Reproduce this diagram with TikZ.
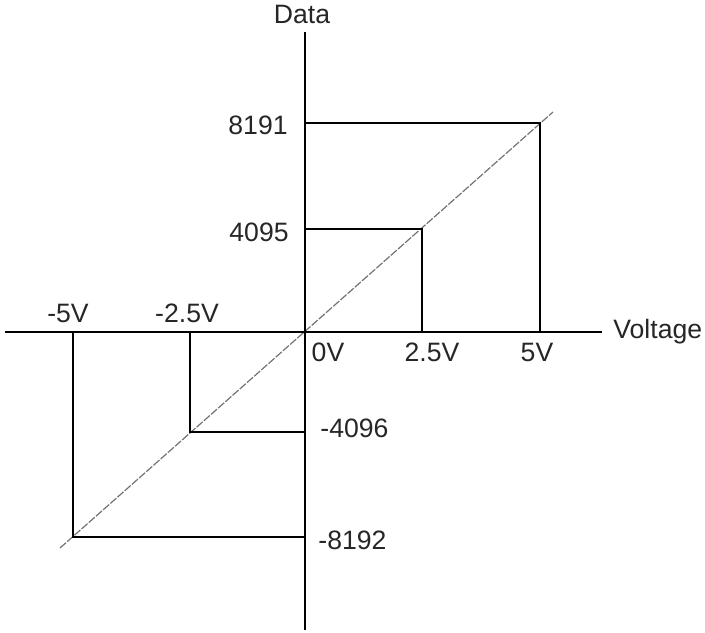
\documentclass[tikz,border=0pt]{standalone}
\usepackage{fontspec}
\setmainfont{Liberation Sans}
\usetikzlibrary{positioning}

\tikzset{
  axis/.style={black, line width=0.75pt},
  guide/.style={black, line width=0.6pt},
  ramp/.style={black!55, line width=0.6pt, dash pattern=on 4pt off 0.8pt},
  lbl/.style={inner sep=0pt, text=black!85, font=\fontsize{13.3}{15}\selectfont}
}

\begin{document}
\begin{tikzpicture}[x=0.5pt, y=0.5pt]

\useasboundingbox (-305,-300) rectangle (400,332);

% axes
\coordinate (xl) at (-300,0);
\coordinate (xr) at (297,0);
\coordinate (yt) at (0,300);
\coordinate (yb) at (0,-298);

% ticks on the voltage axis
\coordinate (vm5) at (-232,0);
\coordinate (vm25) at (-115,0);
\coordinate (v25) at (117,0);
\coordinate (v5) at (235,0);

% ticks on the data axis
\coordinate (d8191) at (0,209);
\coordinate (d4095) at (0,103);
\coordinate (dm4096) at (0,-100);
\coordinate (dm8192) at (0,-205);

% ramp ends
\coordinate (rampa) at (-245,-216);
\coordinate (rampb) at (248,220);

\draw[ramp] (rampa)--(rampb);

\draw[axis] (xl)--(xr);
\draw[axis] (yt)--(yb);

\draw[guide] (d8191) -| (v5);
\draw[guide] (d4095) -| (v25);
\draw[guide] (dm4096) -| (vm25);
\draw[guide] (dm8192) -| (vm5);


\node[lbl, above=4pt of yt, xshift=-1.5pt] (data) {Data};
\node[lbl, right=5.5pt of xr] (voltage) {Voltage};

\node[lbl, anchor=east] (l8191) at (-17,207) {8191};
\node[lbl, anchor=east] (l4095) at (-16,100) {4095};
\node[lbl, anchor=west] (lm4096) at (15,-96) {-4096};
\node[lbl, anchor=west] (lm8192) at (13,-208) {-8192};

\node[lbl] (lm5) at (-237,19) {-5V};
\node[lbl] (lm25) at (-118,19) {-2.5V};
\node[lbl] (l0) at (23,-20) {0V};
\node[lbl] (l25) at (127,-20) {2.5V};
\node[lbl] (l5) at (232,-20) {5V};

\end{tikzpicture}
\end{document}
